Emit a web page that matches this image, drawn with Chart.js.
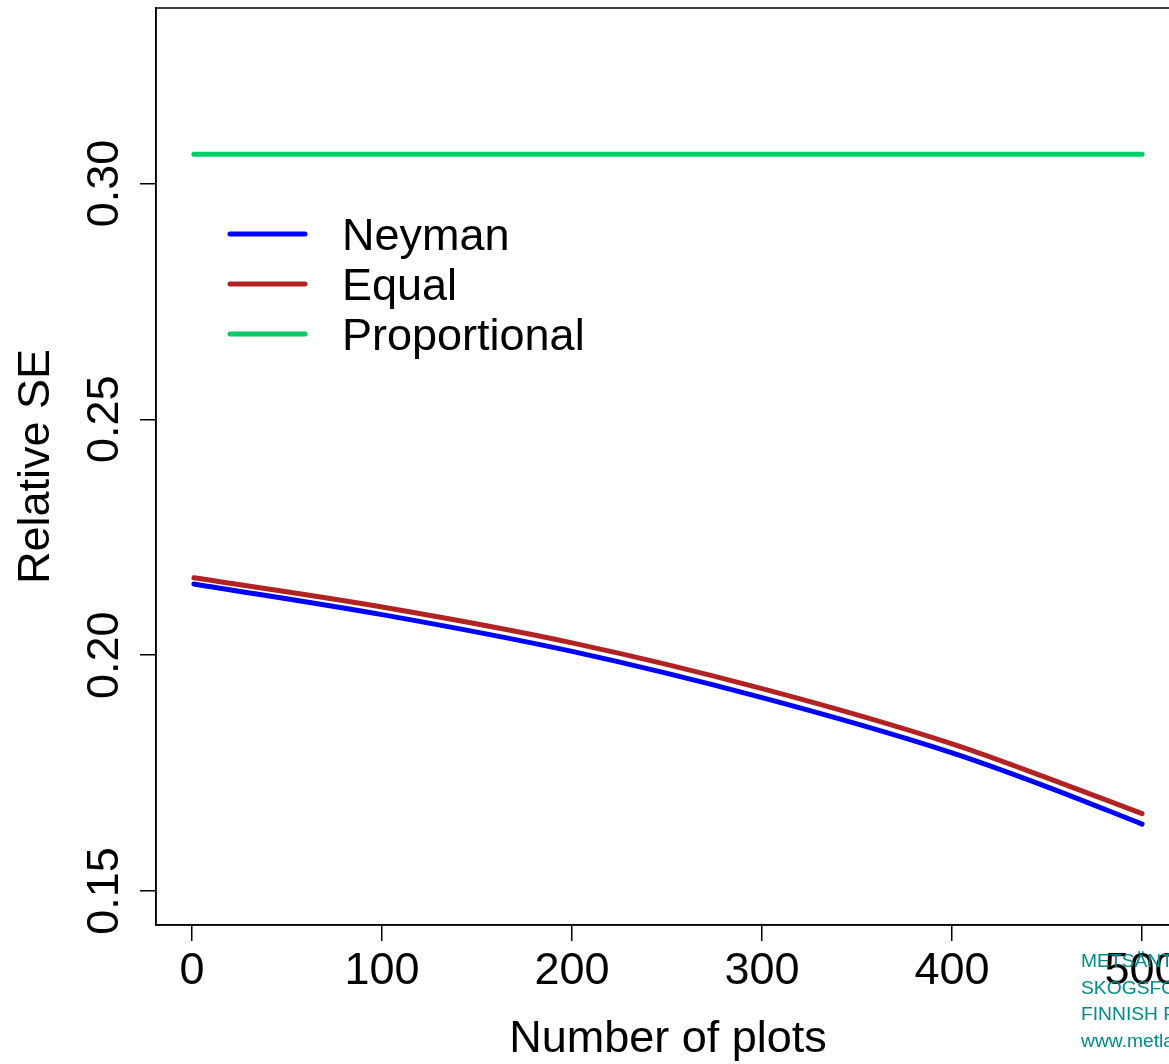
<!DOCTYPE html>
<html>
<head>
<meta charset="utf-8">
<title>Relative SE by number of plots</title>
<script src="https://cdn.jsdelivr.net/npm/chart.js@4/dist/chart.umd.min.js"></script>
<style>
    html, body { margin: 0; padding: 0; background: #fff; }
    body { width: 1169px; height: 1064px; overflow: hidden; position: relative; }
    #chart { display: block; position: absolute; left: 0; top: 0; }
    #metla {
        position: absolute; left: 1081px; top: 948px;
        font-family: "Liberation Sans", Arial, sans-serif;
        font-size: 17.5px; line-height: 26.5px; color: #008b8b;
        white-space: nowrap;
        transform: scaleX(1.1); transform-origin: 0 0;
    }
</style>
</head>
<body>
<canvas id="chart" width="1200" height="1064"></canvas>
<div id="metla">METSÄNTUTKIMUSLAITOS<br>SKOGSFORSKNINGSINSTITUTET<br>FINNISH FOREST RESEARCH INSTITUTE<br>www.metla.fi</div>
<script>
// values
const plots = [1, 100, 200, 300, 400, 450, 500];
const neyman = [0.2151, 0.2086, 0.2008, 0.1910, 0.1793, 0.1721, 0.1642];
const equal = [0.2164, 0.2102, 0.2026, 0.1929, 0.1812, 0.1740, 0.1664];
const proportional = [0.3062, 0.3062, 0.3062, 0.3062, 0.3062, 0.3062, 0.3062];
const seriesNames = ["Neyman", "Equal", "Proportional"];
const seriesColors = ["#0000ff", "#b22222", "#00cd66"];
const xTicks = [0, 100, 200, 300, 400, 500];
const yTicks = [0.15, 0.20, 0.25, 0.30];

const FONT = '"Liberation Sans", Arial, sans-serif';
Chart.defaults.font.family = FONT;
Chart.defaults.color = "#000";

function toPoints(ys) {
    return plots.map((x, i) => ({ x: x, y: ys[i] }));
}

const seriesValues = [neyman, equal, proportional];
const datasets = seriesValues.map((ys, i) => ({
    label: seriesNames[i],
    data: toPoints(ys),
    borderColor: seriesColors[i],
    backgroundColor: seriesColors[i],
    borderWidth: 5,
    borderCapStyle: "round",
    borderJoinStyle: "round",
    pointRadius: 0,
    cubicInterpolationMode: "monotone",
    fill: false
}));

// box around the plot region, like R's box()
const boxPlugin = {
    id: "box",
    afterDraw(chart) {
        const a = chart.chartArea;
        const ctx = chart.ctx;
        ctx.save();
        ctx.strokeStyle = "#000";
        ctx.lineWidth = 1.5;
        ctx.strokeRect(a.left, a.top, a.right - a.left, a.bottom - a.top);
        ctx.restore();
    }
};

// y tick labels rotated, reading bottom to top
const yLabelPlugin = {
    id: "yLabels",
    afterDraw(chart) {
        const ctx = chart.ctx;
        const y = chart.scales.y;
        ctx.save();
        ctx.fillStyle = "#000";
        ctx.font = "45px " + FONT;
        ctx.textAlign = "center";
        ctx.textBaseline = "alphabetic";
        yTicks.forEach(v => {
            ctx.save();
            ctx.translate(118, y.getPixelForValue(v));
            ctx.rotate(-Math.PI / 2);
            ctx.fillText(v.toFixed(2), 0, 0);
            ctx.restore();
        });
        ctx.restore();
    }
};

// legend inside the plot, top left
const legendPlugin = {
    id: "insideLegend",
    afterDraw(chart) {
        const a = chart.chartArea;
        const ctx = chart.ctx;
        ctx.save();
        ctx.font = "45px " + FONT;
        ctx.textBaseline = "alphabetic";
        ctx.textAlign = "left";
        seriesNames.forEach((name, i) => {
            const yy = a.top + 226 + i * 50;
            ctx.strokeStyle = seriesColors[i];
            ctx.lineWidth = 5;
            ctx.lineCap = "round";
            ctx.beginPath();
            ctx.moveTo(a.left + 74, yy);
            ctx.lineTo(a.left + 149, yy);
            ctx.stroke();
            ctx.fillStyle = "#000";
            ctx.fillText(name, a.left + 186, yy + 16);
        });
        ctx.restore();
    }
};

new Chart(document.getElementById("chart"), {
    type: "line",
    data: { datasets: datasets },
    options: {
        responsive: false,
        animation: false,
        devicePixelRatio: 1,
        layout: { padding: { top: 8, right: 20, bottom: 0, left: 0 } },
        plugins: {
            legend: { display: false },
            tooltip: { enabled: false }
        },
        scales: {
            x: {
                type: "linear",
                min: -18.96,
                max: 519.96,
                afterBuildTicks: s => { s.ticks = xTicks.map(v => ({ value: v })); },
                afterFit: s => { s.height = 139; },
                grid: { drawOnChartArea: false, drawTicks: true, tickLength: 16, color: "#000", lineWidth: 1.5 },
                border: { display: true, color: "#000", width: 1.5 },
                ticks: { font: { size: 45 }, color: "#000", padding: 4, maxRotation: 0, autoSkip: false },
                title: {
                    display: true,
                    text: "Number of plots",
                    font: { size: 45, lineHeight: 1 },
                    color: "#000",
                    padding: { top: 0, bottom: 2 }
                }
            },
            y: {
                type: "linear",
                min: 0.1428,
                max: 0.3372,
                afterBuildTicks: s => { s.ticks = yTicks.map(v => ({ value: v })); },
                afterFit: s => { s.width = 156; },
                grid: { drawOnChartArea: false, drawTicks: true, tickLength: 16, color: "#000", lineWidth: 1.5 },
                border: { display: true, color: "#000", width: 1.5 },
                ticks: { display: false },
                title: {
                    display: true,
                    text: "Relative SE",
                    font: { size: 45 },
                    color: "#000",
                    padding: { top: 10, bottom: 0 }
                }
            }
        }
    },
    plugins: [boxPlugin, yLabelPlugin, legendPlugin]
});
</script>
</body>
</html>
